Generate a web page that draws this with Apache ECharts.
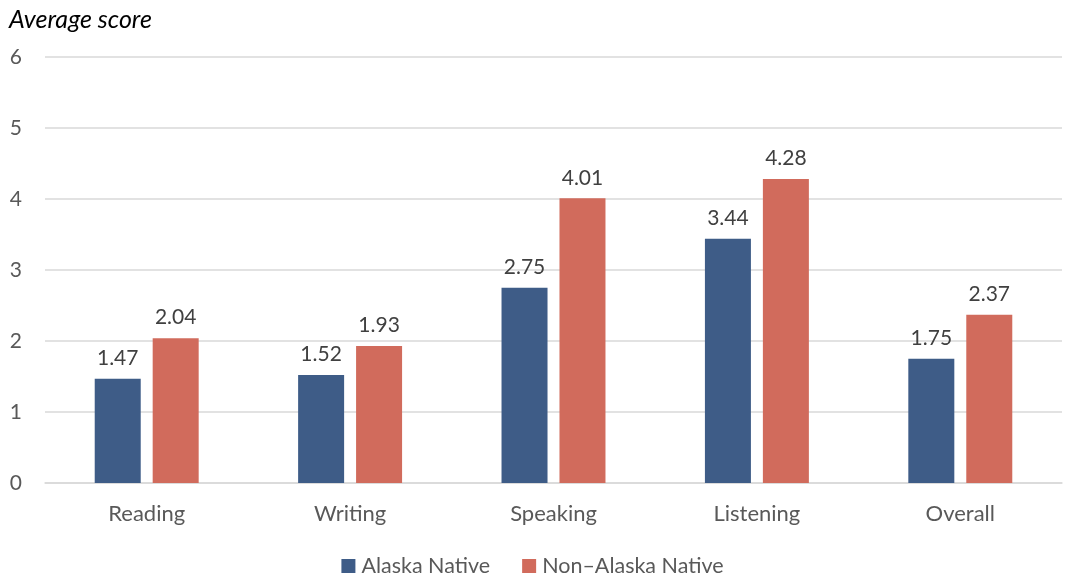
<!DOCTYPE html>
<html lang="en">
  <head>
    <meta charset="UTF-8" />
    <title>Average score</title>
    <style>
      html, body { margin: 0; padding: 0; background: #fff; }
      #chart { width: 1065px; height: 577px; }
    </style>
  </head>
  <body>
    <div id="chart"></div>
    <script src="https://cdn.jsdelivr.net/npm/echarts@6/dist/echarts.min.js"></script>
    <script>
      // data
      const categories = ['Reading', 'Writing', 'Speaking', 'Listening', 'Overall'];
      const alaskaNative = [1.47, 1.52, 2.75, 3.44, 1.75];
      const nonAlaskaNative = [2.04, 1.93, 4.01, 4.28, 2.37];

      const font = 'Lato, "Open Sans", sans-serif';
      const myChart = echarts.init(document.getElementById('chart'));

      const labelStyle = {
        show: true,
        position: 'top',
        distance: 10,
        color: '#404040',
        fontSize: 21,
        fontFamily: font,
        formatter: (p) => p.value.toFixed(2),
      };

      const option = {
        animation: false,
        textStyle: { fontFamily: font },
        title: {
          text: 'Average score',
          left: 4,
          top: 2,
          textStyle: { fontStyle: 'italic', fontWeight: 'normal', fontSize: 25, color: '#000', fontFamily: font },
        },
        grid: { left: 45, right: 3, top: 57, bottom: 94, containLabel: false },
        legend: {
          top: 550,
          left: 'center',
          itemWidth: 14,
          itemHeight: 14,
          itemGap: 32,
          icon: 'rect',
          textStyle: { color: '#595959', fontSize: 21.5, fontFamily: font, padding: [0, 0, 0, 1] },
          data: ['Alaska Native', 'Non\u2013Alaska Native'],
        },
        xAxis: {
          type: 'category',
          data: categories,
          axisLine: { lineStyle: { color: '#d9d9d9', width: 1.5 } },
          axisTick: { show: false },
          axisLabel: { color: '#595959', fontSize: 22, margin: 20, fontFamily: font },
        },
        yAxis: {
          type: 'value',
          min: 0,
          max: 6,
          interval: 1,
          axisLine: { show: false },
          axisTick: { show: false },
          axisLabel: { color: '#595959', fontSize: 21, margin: 23, fontFamily: font },
          splitLine: { lineStyle: { color: '#d9d9d9', width: 1.5 } },
        },
        series: [
          {
            name: 'Alaska Native',
            type: 'bar',
            data: alaskaNative,
            barWidth: 46,
            barGap: '26%',
            itemStyle: { color: '#3E5C87' },
            label: labelStyle,
          },
          {
            name: 'Non\u2013Alaska Native',
            type: 'bar',
            data: nonAlaskaNative,
            barWidth: 46,
            itemStyle: { color: '#D16B5C' },
            label: labelStyle,
          },
        ],
      };

      myChart.setOption(option);
    </script>
  </body>
</html>
